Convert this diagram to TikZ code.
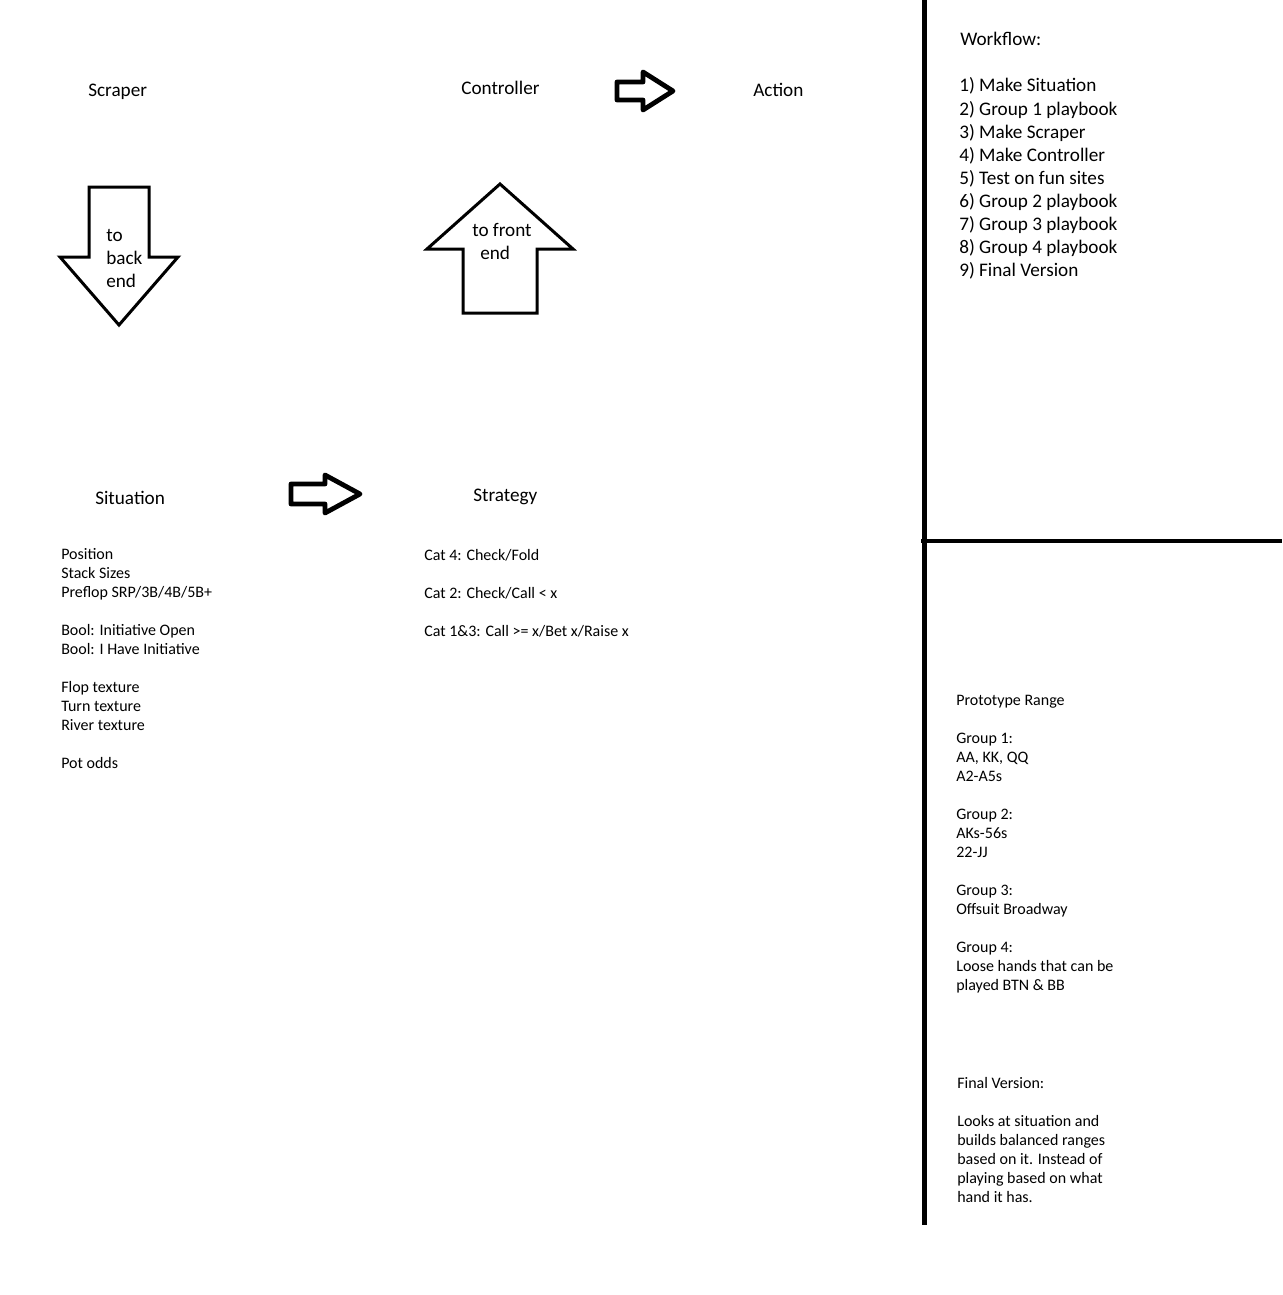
\documentclass[tikz,border=0pt]{standalone}
\usepackage{fontspec}
\setmainfont{Carlito}
\begin{document}
\begin{tikzpicture}[x=0.75pt,y=-0.75pt,
  big/.style={font=\fontsize{14.4}{17}\selectfont, inner sep=0pt, anchor=base west},
  small/.style={font=\fontsize{12}{14}\selectfont, inner sep=0pt, anchor=base west},
  blockarrow/.style={draw=black, line width=2.25pt, line join=miter, fill=white},
  thickarrow/.style={draw=black, line width=3.6pt, line join=round, fill=white},
  divider/.style={draw=black, line width=3.75pt}]
\useasboundingbox[fill=white] (0,0) rectangle (1282,1295);

% dividers
\coordinate (vtop) at (924,0);
\coordinate (vbot) at (924,1225);
\coordinate (hl) at (921,541);
\coordinate (hr) at (1282,541);
\draw[divider] (vtop) -- (vbot);
\draw[draw=black, line width=3pt] (hl) -- (hr);

% block arrows
\draw[blockarrow] (89,187) -- (149,187) -- (149,257) -- (178,257) -- (119,325) -- (60,257) -- (89,257) -- cycle;
\draw[blockarrow] (500,184) -- (573,249) -- (537,249) -- (537,313) -- (463,313) -- (463,249) -- (427,249) -- cycle;
\draw[thickarrow] (617,82) -- (643,82) -- (643,72) -- (673,91) -- (643,110) -- (643,100) -- (617,100) -- cycle;
\draw[thickarrow] (291,484) -- (325,484) -- (325,475) -- (360,494) -- (325,513) -- (325,504) -- (291,504) -- cycle;

% headings
\node[big] (scraper) at (88,96) {Scraper};
\node[big] (controller) at (461,94) {Controller};
\node[big] (action) at (753,96) {Action};
\node[big] (situation) at (95,504) {Situation};
\node[big] (strategy) at (473,501) {Strategy};

% arrow labels
\node[big] (to1) at (106,241) {to};
\node[big] (back) at (106,264) {back};
\node[big] (end1) at (106,287) {end};
\node[big] (tofront) at (472,236) {to front};
\node[big] (end2) at (480,259) {end};

% workflow
\node[big] (wf) at (960,46) {Workflow:};
\node[big] (w1) at (959,92) {1) Make Situation};
\node[big] (w2) at (959,115) {2) Group 1 playbook};
\node[big] (w3) at (959,138) {3) Make Scraper};
\node[big] (w4) at (959,161) {4) Make Controller};
\node[big] (w5) at (959,184) {5) Test on fun sites};
\node[big] (w6) at (959,207) {6) Group 2 playbook};
\node[big] (w7) at (959,230) {7) Group 3 playbook};
\node[big] (w8) at (959,253) {8) Group 4 playbook};
\node[big] (w9) at (959,276) {9) Final Version};

% situation list
\node[small] (s1) at (61,559) {Position};
\node[small] (s2) at (61,578) {Stack Sizes};
\node[small] (s3) at (61,597) {Preflop SRP/3B/4B/5B+};
\node[small] (s4) at (61,635) {Bool: Initiative Open};
\node[small] (s5) at (61,654) {Bool: I Have Initiative};
\node[small] (s6) at (61,692) {Flop texture};
\node[small] (s7) at (61,711) {Turn texture};
\node[small] (s8) at (61,730) {River texture};
\node[small] (s9) at (61,768) {Pot odds};

% strategy list
\node[small] (c1) at (424,560) {Cat 4: Check/Fold};
\node[small] (c2) at (424,598) {Cat 2: Check/Call < x};
\node[small] (c3) at (424,636) {Cat 1\&3: Call >= x/Bet x/Raise x};

% prototype range
\node[small] (p0) at (956,705) {Prototype Range};
\node[small] (p1) at (956,743) {Group 1:};
\node[small] (p2) at (956,762) {AA, KK, QQ};
\node[small] (p3) at (956,781) {A2-A5s};
\node[small] (p4) at (956,819) {Group 2:};
\node[small] (p5) at (956,838) {AKs-56s};
\node[small] (p6) at (956,857) {22-JJ};
\node[small] (p7) at (956,895) {Group 3:};
\node[small] (p8) at (956,914) {Offsuit Broadway};
\node[small] (p9) at (956,952) {Group 4:};
\node[small] (p10) at (956,971) {Loose hands that can be};
\node[small] (p11) at (956,990) {played BTN \& BB};

% final version
\node[small] (f0) at (957,1088) {Final Version:};
\node[small] (f1) at (957,1126) {Looks at situation and};
\node[small] (f2) at (957,1145) {builds balanced ranges};
\node[small] (f3) at (957,1164) {based on it. Instead of};
\node[small] (f4) at (957,1183) {playing based on what};
\node[small] (f5) at (957,1202) {hand it has.};
\end{tikzpicture}
\end{document}
